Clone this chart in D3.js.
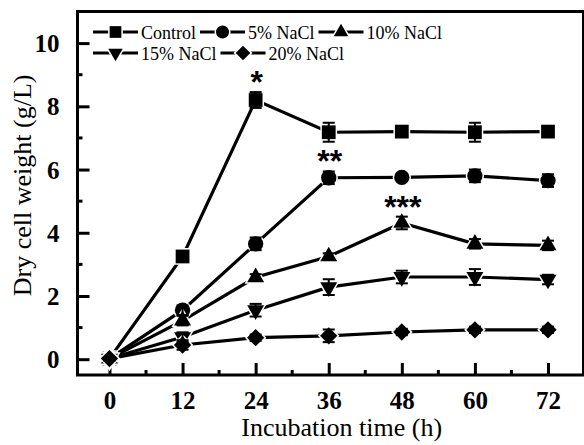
<!DOCTYPE html>
<html>
<head>
<meta charset="utf-8">
<script src="https://cdn.jsdelivr.net/npm/d3@7"></script>
<style>
  body { margin: 0; background: #fff; }
  svg { display: block; }
</style>
</head>
<body>
<div id="chart"></div>
<script>
// data
const hours = [0, 12, 24, 36, 48, 60, 72];
const seriesNames = ["Control", "5% NaCl", "10% NaCl", "15% NaCl", "20% NaCl"];
const control = [0.02, 3.25, 8.2, 7.18, 7.2, 7.18, 7.2];
const nacl5 = [0.02, 1.55, 3.65, 5.74, 5.75, 5.8, 5.65];
const nacl10 = [0.02, 1.22, 2.59, 3.25, 4.31, 3.65, 3.6];
const nacl15 = [0.02, 0.7, 1.55, 2.28, 2.6, 2.6, 2.52];
const nacl20 = [0.02, 0.45, 0.68, 0.74, 0.86, 0.93, 0.93];
const errControl = [0.05, 0.08, 0.25, 0.3, 0.1, 0.3, 0.1];
const err5 = [0.05, 0.15, 0.2, 0.2, 0.1, 0.2, 0.2];
const err10 = [0.05, 0.15, 0.1, 0.1, 0.2, 0.15, 0.15];
const err15 = [0.05, 0.15, 0.2, 0.25, 0.2, 0.25, 0.15];
const err20 = [0.05, 0.15, 0.1, 0.2, 0.1, 0.1, 0.1];
const xTicks = [0, 12, 24, 36, 48, 60, 72];
const yTicks = [0, 2, 4, 6, 8, 10];
// significance stars: series index, hour, label
const stars = [[0, 24, "*"], [1, 36, "**"], [2, 48, "***"]];

const values = [control, nacl5, nacl10, nacl15, nacl20];
const errors = [errControl, err5, err10, err15, err20];

const W = 584, H = 445;
const svg = d3.select("#chart").append("svg")
    .attr("width", W).attr("height", H);

const x = d3.scaleLinear().domain([-5.25, 77.83]).range([77.5, 583.5]);
const y = d3.scaleLinear().domain([-0.5, 11]).range([375, 11.5]);

const black = "#000";
const serif = "'Liberation Serif', 'Times New Roman', serif";

// marker shapes
const shapes = [
    {type: d3.symbolSquare, size: 190, rot: 0},
    {type: d3.symbolCircle, size: 185, rot: 0},
    {type: d3.symbolTriangle, size: 125, rot: 0},
    {type: d3.symbolTriangle, size: 125, rot: 180},
    {type: d3.symbolSquare, size: 150, rot: 45}
];

function drawMarker(g, i, cx, cy, k) {
    const s = shapes[i];
    g.append("path")
        .attr("d", d3.symbol().type(s.type).size(s.size * k * k)())
        .attr("transform", `translate(${cx},${cy}) rotate(${s.rot})`)
        .attr("fill", black)
        .attr("stroke", "#fff")
        .attr("stroke-width", 3)
        .attr("paint-order", "stroke");
}

// axes
const xAxis = d3.axisBottom(x).tickValues(xTicks).tickSize(-12).tickPadding(16);
const yAxis = d3.axisLeft(y).tickValues(yTicks).tickSize(-12).tickPadding(18);

const gx = svg.append("g").attr("transform", `translate(0,${y(-0.5)})`).call(xAxis);
const gy = svg.append("g").attr("transform", `translate(${x(-5.25)},0)`).call(yAxis);

[gx, gy].forEach(g => {
    g.select(".domain").remove();
    g.selectAll(".tick line").attr("stroke", black).attr("stroke-width", 3);
    g.selectAll(".tick text")
        .attr("fill", black)
        .style("font-family", serif)
        .style("font-weight", "bold")
        .style("font-size", "25px");
});
gy.selectAll(".tick text").attr("dy", "0.34em");

// minor ticks
svg.append("g").selectAll("line")
    .data(d3.range(6, 72, 12))
    .join("line")
    .attr("x1", d => x(d)).attr("x2", d => x(d))
    .attr("y1", y(-0.5)).attr("y2", y(-0.5) - 5)
    .attr("stroke", black).attr("stroke-width", 3);
svg.append("g").selectAll("line")
    .data(d3.range(1, 11, 2))
    .join("line")
    .attr("x1", x(-5.25)).attr("x2", x(-5.25) + 5)
    .attr("y1", d => y(d)).attr("y2", d => y(d))
    .attr("stroke", black).attr("stroke-width", 3);

// frame
svg.append("rect")
    .attr("x", x(-5.25)).attr("y", y(11))
    .attr("width", x(77.83) - x(-5.25))
    .attr("height", y(-0.5) - y(11))
    .attr("fill", "none")
    .attr("stroke", black)
    .attr("stroke-width", 3);

// axis titles
svg.append("text")
    .attr("x", x(36) + 13)
    .attr("y", 436)
    .attr("text-anchor", "middle")
    .style("font-family", serif)
    .style("font-size", "26px")
    .text("Incubation time (h)");

svg.append("text")
    .attr("transform", `translate(31,${y(5.5)}) rotate(-90)`)
    .attr("text-anchor", "middle")
    .style("font-family", serif)
    .style("font-size", "26px")
    .text("Dry cell weight (g/L)");

// lines
const line = d3.line().x((d, i) => x(hours[i])).y(d => y(d));
values.forEach(v => {
    svg.append("path")
        .attr("d", line(v))
        .attr("fill", "none")
        .attr("stroke", black)
        .attr("stroke-width", 3.2);
});

// markers
const gm = svg.append("g");
values.forEach((v, si) => {
    v.forEach((d, i) => drawMarker(gm, si, x(hours[i]), y(d), 1));
});

// error bars
const ge = svg.append("g").attr("stroke", black).attr("stroke-width", 2);
values.forEach((v, si) => {
    v.forEach((d, i) => {
        const e = errors[si][i];
        const cx = x(hours[i]);
        ge.append("line").attr("x1", cx).attr("x2", cx)
            .attr("y1", y(d - e)).attr("y2", y(d + e));
        [d - e, d + e].forEach(t => {
            ge.append("line").attr("x1", cx - 6).attr("x2", cx + 6)
                .attr("y1", y(t)).attr("y2", y(t));
        });
    });
});

// significance stars
stars.forEach(([si, h, label]) => {
    const i = hours.indexOf(h);
    svg.append("text")
        .attr("x", x(h) + 1)
        .attr("y", y(values[si][i] + errors[si][i]) + 1)
        .attr("text-anchor", "middle")
        .style("font-family", "'Liberation Sans', Arial, sans-serif")
        .style("font-weight", "bold")
        .style("font-size", "32px")
        .text(label);
});

// legend, two rows
const rows = [[0, 1, 2], [3, 4]];
const rowY = [32, 53];
const gl = svg.append("g");
rows.forEach((row, r) => {
    let cx = 93;
    row.forEach(si => {
        gl.append("line")
            .attr("x1", cx).attr("x2", cx + 45)
            .attr("y1", rowY[r]).attr("y2", rowY[r])
            .attr("stroke", black).attr("stroke-width", 3.2);
        drawMarker(gl, si, cx + 22.5, rowY[r], 0.85);
        const t = gl.append("text")
            .attr("x", cx + 48)
            .attr("y", rowY[r] + 6.5)
            .style("font-family", serif)
            .style("font-size", "18px")
            .text(seriesNames[si]);
        cx = cx + 48 + t.node().getComputedTextLength() + 4;
    });
});
</script>
</body>
</html>
